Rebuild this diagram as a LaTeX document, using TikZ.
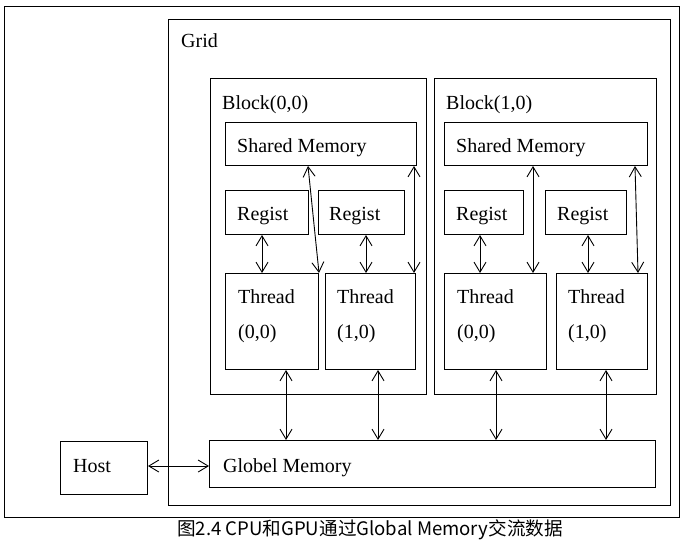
\documentclass[tikz,border=0pt]{standalone}
\usepackage{fontspec}
\setmainfont{Liberation Serif}
\newfontfamily\cjk{Noto Sans CJK SC}
\usetikzlibrary{arrows.meta}
\tikzset{
  box/.style={draw, line width=1pt, inner sep=0pt, anchor=north west},
  lbl/.style={anchor=base west, inner sep=0pt, font=\fontsize{20}{23}\selectfont},
  dbl/.style={line width=0.9pt, {Straight Barb[length=10pt,width=12pt]}-{Straight Barb[length=10pt,width=12pt]}}
}
\begin{document}
\begin{tikzpicture}[x=1pt,y=-1pt]
\useasboundingbox (0,0) rectangle (683,540);
% frames
\node[box, minimum width=675pt, minimum height=511pt] (outer) at (4,6) {};
\node[box, minimum width=502pt, minimum height=486pt] (grid) at (168,19) {};
\node[box, minimum width=216pt, minimum height=316pt] (blk0) at (210,78) {};
\node[box, minimum width=222pt, minimum height=316pt] (blk1) at (434,78) {};
% shared memories
\node[box, minimum width=191pt, minimum height=43pt] (sm0) at (225,122) {};
\node[box, minimum width=203pt, minimum height=43pt] (sm1) at (444,122) {};
% registers
\node[box, minimum width=83pt, minimum height=44pt] (rg0a) at (225,190) {};
\node[box, minimum width=86pt, minimum height=44pt] (rg0b) at (318,190) {};
\node[box, minimum width=79pt, minimum height=44pt] (rg1a) at (444,190) {};
\node[box, minimum width=81pt, minimum height=44pt] (rg1b) at (545,190) {};
% threads
\node[box, minimum width=93pt, minimum height=96pt] (th0a) at (225,273) {};
\node[box, minimum width=90pt, minimum height=96pt] (th0b) at (325,273) {};
\node[box, minimum width=102pt, minimum height=96pt] (th1a) at (444,273) {};
\node[box, minimum width=91pt, minimum height=96pt] (th1b) at (556,273) {};
% host and global memory
\node[box, minimum width=87pt, minimum height=53pt] (host) at (60,441) {};
\node[box, minimum width=446pt, minimum height=47pt] (gm) at (209,440) {};
% labels
\node[lbl] (tgrid) at (181,48) {Grid};
\node[lbl] (tblk0) at (222,110) {Block(0,0)};
\node[lbl] (tblk1) at (446,110) {Block(1,0)};
\node[lbl] (tsm0) at (237,153) {Shared Memory};
\node[lbl] (tsm1) at (456,153) {Shared Memory};
\node[lbl] (trg0a) at (237,221) {Regist};
\node[lbl] (trg0b) at (329,221) {Regist};
\node[lbl] (trg1a) at (456,221) {Regist};
\node[lbl] (trg1b) at (557,221) {Regist};
\node[lbl] (tth0a) at (238,304) {Thread};
\node[lbl] (tth0b) at (337,304) {Thread};
\node[lbl] (tth1a) at (457,304) {Thread};
\node[lbl] (tth1b) at (568,304) {Thread};
\node[lbl] (tid0a) at (238,338) {(0,0)};
\node[lbl] (tid0b) at (337,338) {(1,0)};
\node[lbl] (tid1a) at (457,338) {(0,0)};
\node[lbl] (tid1b) at (568,338) {(1,0)};
\node[lbl] (thost) at (73,472) {Host};
\node[lbl] (tgm) at (223,472) {Globel Memory};
\node[anchor=base, inner sep=0pt, font=\cjk\fontsize{18.6}{20}\selectfont] (cap) at (370,535) {图2.4 CPU和GPU通过Global Memory交流数据};
% register <-> thread
\draw[dbl] (262,0 |- rg0a.south) -- (262,0 |- th0a.north);
\draw[dbl] (366,0 |- rg0b.south) -- (366,0 |- th0b.north);
\draw[dbl] (480,0 |- rg1a.south) -- (480,0 |- th1a.north);
\draw[dbl] (588,0 |- rg1b.south) -- (588,0 |- th1b.north);
% shared <-> thread
\draw[dbl] (308,0 |- sm0.south) -- (th0a.north east);
\draw[dbl] (414,0 |- sm0.south) -- (414,0 |- th0b.north);
\draw[dbl] (533,0 |- sm1.south) -- (533,0 |- th1a.north);
\draw[dbl] (635,0 |- sm1.south) -- (638,0 |- th1b.north);
% thread <-> global
\draw[dbl] (286,0 |- th0a.south) -- (286,0 |- gm.north);
\draw[dbl] (378,0 |- th0b.south) -- (378,0 |- gm.north);
\draw[dbl] (496,0 |- th1a.south) -- (496,0 |- gm.north);
\draw[dbl] (606,0 |- th1b.south) -- (606,0 |- gm.north);
% host <-> global
\draw[dbl] (host.east |- 0,466) -- (gm.west |- 0,466);
\end{tikzpicture}
\end{document}
